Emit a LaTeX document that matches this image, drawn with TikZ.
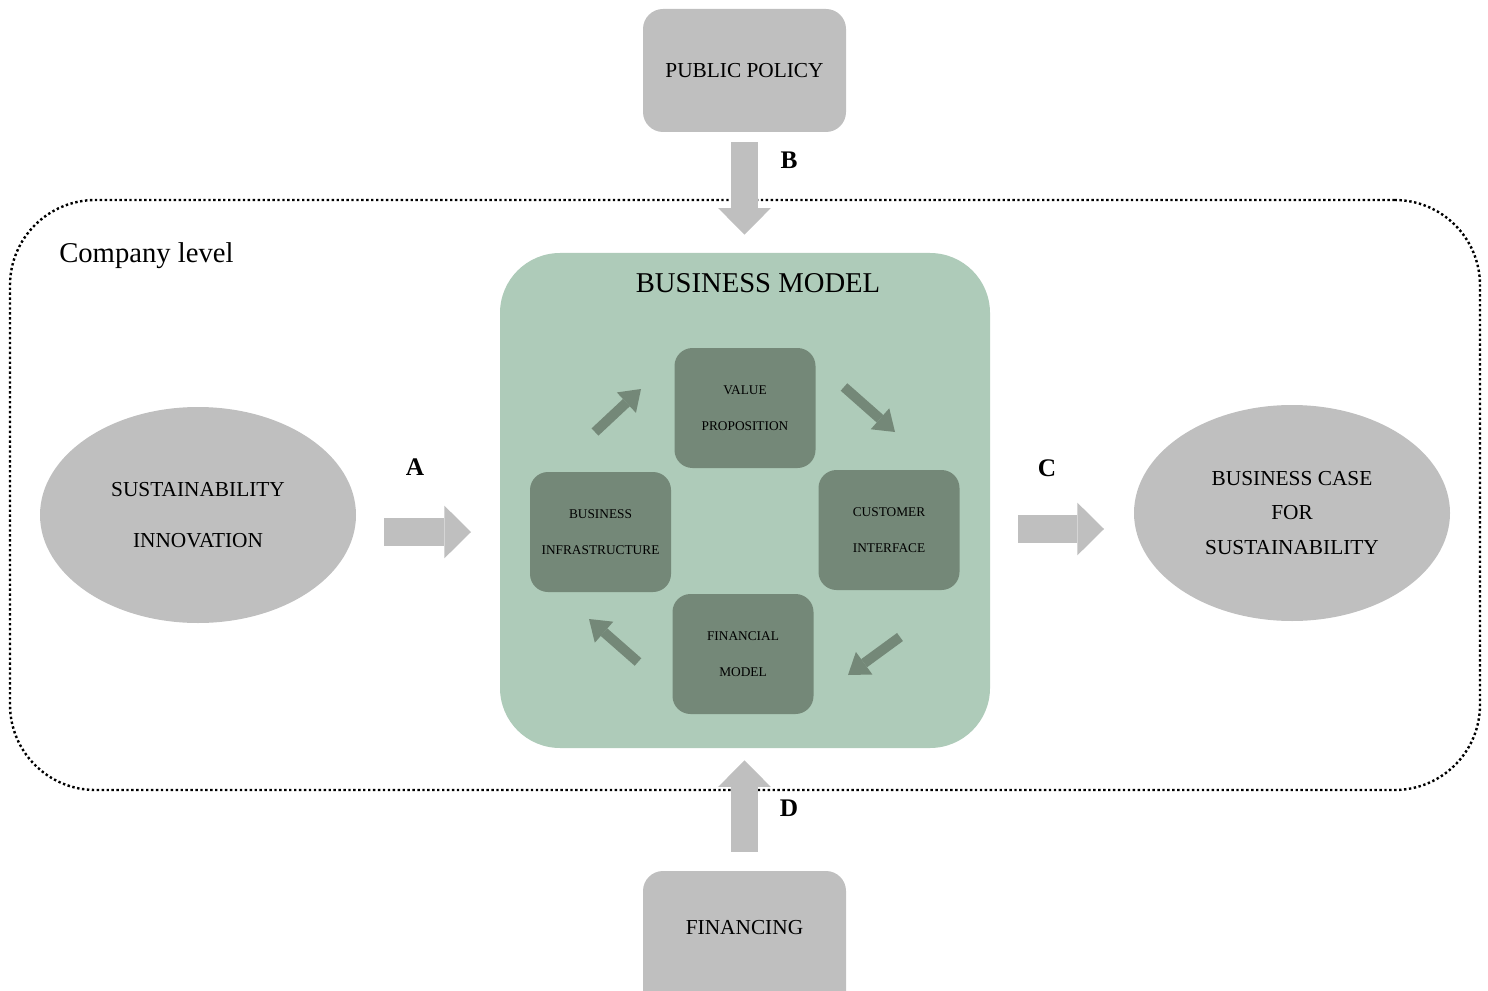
\documentclass[tikz,border=0pt]{standalone}
\usepackage{fontspec}
\setmainfont{Liberation Serif}
\usetikzlibrary{arrows.meta,shapes.geometric}
\definecolor{boxgray}{HTML}{BFBFBF}
\definecolor{bmgreen}{HTML}{AECBB9}
\definecolor{innergreen}{HTML}{748878}

\begin{document}
\begin{tikzpicture}[x=0.75pt,y=0.75pt,yscale=-1,xscale=1,
    graybox/.style={fill=boxgray, rounded corners=15pt, minimum width=152.25pt, minimum height=92.25pt, font=\fontsize{16}{19}\selectfont},
    grayoval/.style={ellipse, fill=boxgray, minimum width=237pt, minimum height=162pt, align=center},
    innerbox/.style={fill=innergreen, rounded corners=13.5pt, minimum width=105.75pt, minimum height=90pt, align=center, font=\fontsize{10}{27.5}\selectfont},
    bigarrow/.style={draw=boxgray, line width=20.5pt, -{Triangle[length=20pt,width=39.5pt,line width=0pt]}},
    smallarrow/.style={draw=innergreen, line width=7.5pt, -{Triangle[length=15pt,width=21pt,line width=0pt]}},
    arrowlabel/.style={font=\fontsize{19}{22}\selectfont\bfseries}]
    \clip (0,0) rectangle (1488,991);

    %Company frame
    \node [draw, line width=1.8pt, dash pattern=on 1.8pt off 1.9pt, rounded corners=64pt, minimum width=1102.5pt, minimum height=442.5pt] (company) at (745,495) {};
    % Text Node
    \node [anchor=west, inner sep=0pt, font=\fontsize{21.5}{24}\selectfont] (companytext) at (59,256) {Company level};

    %Outer boxes
    \node [graybox] (policy) at (744.5,70.5) {PUBLIC POLICY};
    \node [graybox, minimum height=112.5pt] (financing) at (744.5,946) {};
    \node [font=\fontsize{16}{19}\selectfont] (fintext) at (744.5,928) {FINANCING};
    \node [grayoval, font=\fontsize{16}{38}\selectfont] (sust) at (198,515) {SUSTAINABILITY\\INNOVATION};
    \node [grayoval, font=\fontsize{16}{26}\selectfont] (bcase) at (1292,513) {BUSINESS CASE\\FOR\\SUSTAINABILITY};

    %Business model
    \node [fill=bmgreen, rounded corners=45pt, minimum width=367.5pt, minimum height=371.25pt] (bm) at (745,500.5) {};
    \node [font=\fontsize{21.5}{24}\selectfont] (bmtitle) at (758,283) {BUSINESS MODEL};
    \node [innerbox] (value) at (745,408) {VALUE\\PROPOSITION};
    \node [innerbox] (infra) at (600.5,532) {BUSINESS\\INFRASTRUCTURE};
    \node [innerbox] (customer) at (889,530) {CUSTOMER\\INTERFACE};
    \node [innerbox] (finmodel) at (743,654) {FINANCIAL\\MODEL};

    %Small arrows
    \coordinate (ul1) at (595,432); \coordinate (ul2) at (641,389);
    \coordinate (ur1) at (844,387); \coordinate (ur2) at (895,432);
    \coordinate (lr1) at (900,637); \coordinate (lr2) at (848,675);
    \coordinate (ll1) at (638,662); \coordinate (ll2) at (589,619);
    \draw [smallarrow] (ul1) -- (ul2);
    \draw [smallarrow] (ur1) -- (ur2);
    \draw [smallarrow] (lr1) -- (lr2);
    \draw [smallarrow] (ll1) -- (ll2);

    %Big arrows
    \coordinate (atail) at (384,532); \coordinate (ahead) at (471,532);
    \coordinate (ctail) at (1018,529); \coordinate (chead) at (1104,529);
    \draw [bigarrow] (atail) -- (ahead);
    \draw [bigarrow] (ctail) -- (chead);
    \draw [bigarrow, shorten <=7.5pt, shorten >=13.5pt] (policy.south) -- (policy.south |- bm.north);
    \draw [bigarrow, shorten <=14.25pt, shorten >=9pt] (financing.north) -- (financing.north |- bm.south);

    % Text Node
    \node [arrowlabel] (labela) at (415,467) {A};
    \node [arrowlabel] (labelb) at (789,160) {B};
    \node [arrowlabel] (labelc) at (1047,468) {C};
    \node [arrowlabel] (labeld) at (789,808) {D};
\end{tikzpicture}
\end{document}
